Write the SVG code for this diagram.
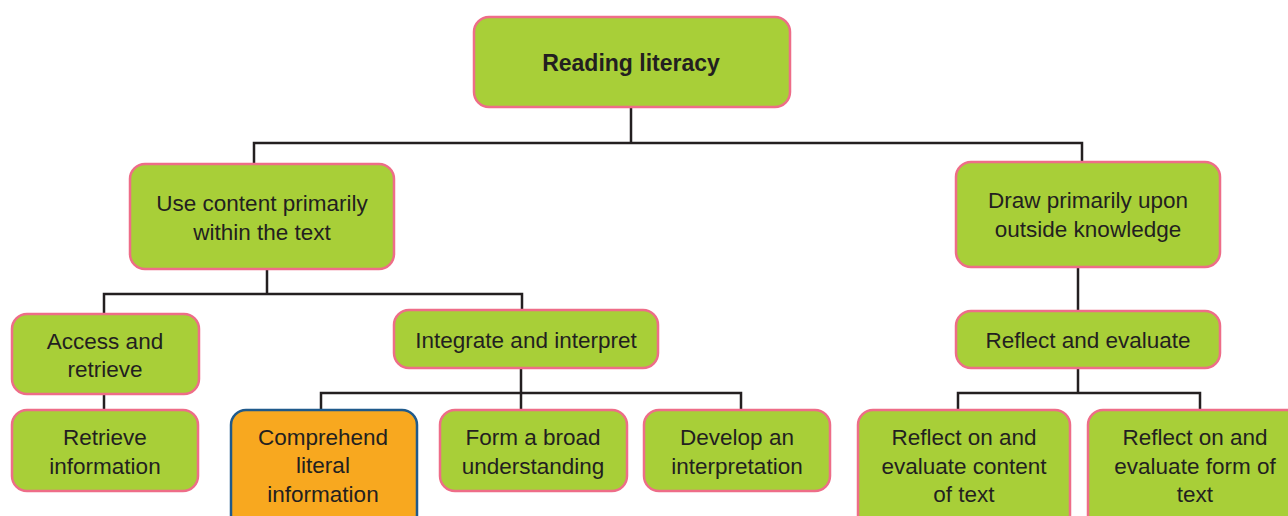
<svg xmlns="http://www.w3.org/2000/svg" width="1288" height="516" viewBox="0 0 1288 516">
<style>
.n{fill:#a8cf38;stroke:#ee6d88;stroke-width:2.5}
.o{fill:#f8a81f;stroke:#1f5a8c;stroke-width:2.5}
.t{font-family:"Liberation Sans",Arial,sans-serif;font-size:22.5px;fill:#231f20;text-anchor:middle}
.b{font-weight:bold;font-size:23px}
.c{fill:none;stroke:#231f20;stroke-width:2.5}
</style>
<rect width="1288" height="516" fill="#ffffff"/>
<g id="connectors" class="c">
<path d="M631 107V143M254 164V143H1082V162"/>
<path d="M267 269V294M104 314V294H522V310"/>
<path d="M104 394V410"/>
<path d="M521 368V393M321 410V393H741V410M521 393V410"/>
<path d="M1078 267V310"/>
<path d="M1078 368V393M958 410V393H1200V410"/>
</g>
<g id="root"><rect class="n" x="474" y="17" width="316" height="90" rx="15"/><text class="t b" x="631" y="71">Reading literacy</text></g>
<g id="use-content"><rect class="n" x="130" y="164" width="264" height="105" rx="15"/><text class="t" x="262" y="211">Use content primarily</text><text class="t" x="262" y="240">within the text</text></g>
<g id="draw-primarily"><rect class="n" x="956" y="162" width="264" height="105" rx="15"/><text class="t" x="1088" y="208">Draw primarily upon</text><text class="t" x="1088" y="237">outside knowledge</text></g>
<g id="access"><rect class="n" x="12" y="314" width="187" height="80" rx="15"/><text class="t" x="105" y="349">Access and</text><text class="t" x="105" y="377">retrieve</text></g>
<g id="integrate"><rect class="n" x="394" y="310" width="264" height="58" rx="15"/><text class="t" x="526" y="348">Integrate and interpret</text></g>
<g id="reflect-evaluate"><rect class="n" x="956" y="311" width="264" height="57" rx="15"/><text class="t" x="1088" y="348">Reflect and evaluate</text></g>
<g id="retrieve"><rect class="n" x="12" y="410" width="186" height="81" rx="15"/><text class="t" x="105" y="445">Retrieve</text><text class="t" x="105" y="474">information</text></g>
<g id="comprehend"><rect class="o" x="231" y="410" width="186" height="120" rx="15"/><text class="t" x="323" y="445">Comprehend</text><text class="t" x="323" y="473">literal</text><text class="t" x="323" y="502">information</text></g>
<g id="broad"><rect class="n" x="440" y="410" width="187" height="81" rx="15"/><text class="t" x="533" y="445">Form a broad</text><text class="t" x="533" y="474">understanding</text></g>
<g id="develop"><rect class="n" x="644" y="410" width="186" height="81" rx="15"/><text class="t" x="737" y="445">Develop an</text><text class="t" x="737" y="474">interpretation</text></g>
<g id="reflect-content"><rect class="n" x="858" y="410" width="212" height="120" rx="15"/><text class="t" x="964" y="445">Reflect on and</text><text class="t" x="964" y="474">evaluate content</text><text class="t" x="964" y="502">of text</text></g>
<g id="reflect-form"><rect class="n" x="1088" y="410" width="214" height="120" rx="15"/><text class="t" x="1195" y="445">Reflect on and</text><text class="t" x="1195" y="474">evaluate form of</text><text class="t" x="1195" y="502">text</text></g>
</svg>
